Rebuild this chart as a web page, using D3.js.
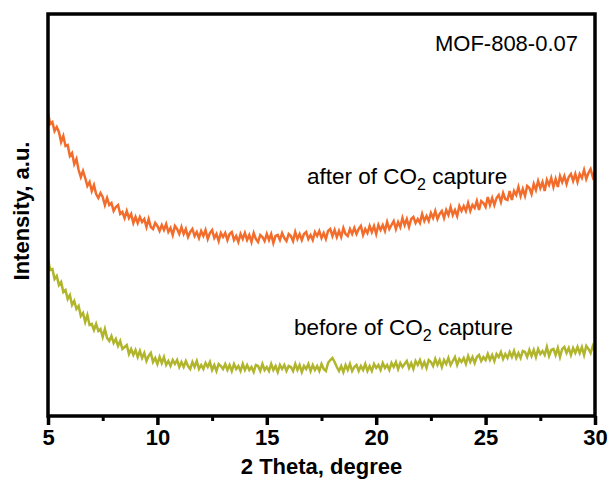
<!DOCTYPE html>
<html>
<head>
<meta charset="utf-8">
<script src="https://cdn.jsdelivr.net/npm/d3@7"></script>
<style>
  html, body { margin: 0; padding: 0; background: #fff; }
  svg { display: block; font-family: "Liberation Sans", Arial, sans-serif; }
</style>
</head>
<body>
<svg id="chart" width="614" height="484"></svg>
<script>
// 2 Theta start / step (degree)
const thetaStart = 5.0;
const thetaStep = 0.1;
const xTicks = [5, 10, 15, 20, 25, 30];
const xMinorTicks = [7.5, 12.5, 17.5, 22.5, 27.5];

// Intensity (a.u.), one value per 0.1 degree from 5 to 30
const afterValues = [
  303, 292, 294, 285, 289, 284, 274, 280, 270, 271, 260,
  263, 252, 257, 246, 239, 245, 238, 230, 234, 225,
  231, 222, 218, 223, 219, 211, 218, 211, 213, 205,
  209, 211, 202, 204, 198, 205, 198, 202, 193, 199,
  193, 199, 194, 197, 189, 197, 189, 187, 193, 190,
  185, 191, 186, 192, 184, 188, 181, 190, 187, 182,
  189, 182, 187, 179, 184, 187, 180, 184, 178, 185,
  180, 186, 177, 183, 186, 178, 182, 175, 183, 179,
  183, 176, 182, 184, 176, 180, 174, 182, 177, 183,
  176, 181, 174, 183, 177, 174, 181, 179, 175, 182,
  176, 182, 173, 180, 181, 176, 183, 178, 175, 182,
  180, 175, 184, 177, 182, 176, 182, 184, 177, 181,
  176, 184, 180, 185, 178, 183, 177, 185, 187, 180,
  186, 179, 185, 179, 188, 182, 180, 187, 182, 188,
  182, 187, 190, 181, 187, 183, 190, 184, 190, 182,
  191, 186, 191, 185, 194, 187, 191, 195, 187, 194,
  189, 198, 191, 197, 189, 197, 199, 193, 197, 193,
  202, 195, 200, 195, 203, 198, 205, 197, 202, 205,
  198, 206, 201, 209, 201, 206, 200, 210, 205, 210,
  205, 213, 205, 211, 208, 215, 206, 215, 213, 209,
  219, 211, 218, 211, 218, 221, 214, 223, 217, 216,
  225, 216, 225, 221, 229, 220, 227, 220, 230, 228,
  222, 232, 226, 235, 228, 234, 225, 236, 231, 238,
  229, 237, 229, 240, 234, 240, 232, 239, 242, 235,
  242, 234, 242, 238, 246, 237, 243, 247, 239, 244
];
const beforeValues = [
  157, 146, 147, 137, 140, 131, 134, 124, 126, 117, 121,
  111, 115, 107, 110, 100, 103, 94, 101, 91, 92,
  86, 92, 85, 87, 79, 87, 78, 75, 80, 73,
  77, 70, 75, 67, 69, 71, 62, 67, 61, 66,
  59, 65, 58, 63, 55, 60, 63, 54, 58, 52,
  59, 53, 59, 51, 55, 50, 56, 52, 56, 49,
  54, 49, 55, 50, 47, 54, 49, 55, 47, 51,
  47, 53, 49, 54, 46, 51, 45, 52, 50, 47,
  52, 46, 51, 45, 52, 47, 50, 45, 52, 46,
  51, 46, 49, 44, 51, 50, 45, 52, 46, 49,
  45, 52, 46, 50, 44, 51, 47, 51, 45, 50,
  49, 45, 52, 46, 51, 44, 50, 47, 52, 45,
  51, 46, 50, 45, 52, 47, 45, 53, 56, 58,
  54, 49, 45, 50, 44, 51, 46, 52, 45, 49,
  51, 45, 50, 46, 52, 45, 50, 45, 52, 48,
  51, 46, 53, 48, 51, 46, 53, 49, 54, 47,
  53, 49, 52, 55, 48, 53, 47, 55, 51, 56,
  49, 54, 48, 56, 54, 50, 57, 51, 56, 49,
  56, 52, 58, 51, 55, 59, 51, 57, 54, 58,
  52, 60, 54, 59, 53, 59, 61, 55, 59, 56,
  62, 56, 61, 55, 62, 59, 64, 57, 62, 58,
  64, 59, 65, 58, 63, 58, 65, 64, 59, 66,
  60, 66, 59, 67, 62, 65, 61, 69, 60, 66,
  67, 61, 68, 59, 67, 69, 63, 68, 61, 68,
  63, 69, 63, 69, 61, 70, 67, 63, 70, 65
];

const seriesNames = ["after of CO2 capture", "before of CO2 capture"];
const seriesColors = ["#f26d2c", "#b0b52c"];

const svg = d3.select("#chart");
const L = 48, R = 595, T = 14, B = 416;

const x = d3.scaleLinear().domain([5, 30]).range([L, R]);
const y = d3.scaleLinear().domain([0, 402]).range([B, T]);

function toPoints(vals) {
  return vals.map((v, i) => [thetaStart + i * thetaStep, v]);
}

const line = d3.line().x(d => x(d[0])).y(d => y(d[1]));

const data = [toPoints(afterValues), toPoints(beforeValues)];

svg.append("clipPath").attr("id", "clip")
  .append("rect").attr("x", L).attr("y", T).attr("width", R - L).attr("height", B - T);

svg.append("g").attr("clip-path", "url(#clip)")
  .selectAll("path").data(data).join("path")
  .attr("d", line)
  .attr("fill", "none")
  .attr("stroke", (d, i) => seriesColors[i])
  .attr("stroke-width", 2.5)
  .attr("stroke-linejoin", "miter");

// frame
svg.append("rect")
  .attr("x", L).attr("y", T).attr("width", R - L).attr("height", B - T)
  .attr("fill", "none").attr("stroke", "#000").attr("stroke-width", 3.5);

// bottom axis
const xAxis = d3.axisBottom(x).tickValues(xTicks).tickSize(9).tickPadding(4).tickFormat(d3.format("d"));
const gx = svg.append("g").attr("transform", `translate(0,${B})`).call(xAxis);
gx.select(".domain").remove();
gx.selectAll(".tick line").attr("stroke", "#000").attr("stroke-width", 3.5);
gx.selectAll(".tick text").attr("font-size", 22).attr("font-weight", "bold")
  .attr("fill", "#000").attr("font-family", "Liberation Sans, Arial, sans-serif");

const xAxisMinor = d3.axisBottom(x).tickValues(xMinorTicks).tickSize(5).tickFormat("");
const gxm = svg.append("g").attr("transform", `translate(0,${B})`).call(xAxisMinor);
gxm.select(".domain").remove();
gxm.selectAll(".tick line").attr("stroke", "#000").attr("stroke-width", 3);

// axis titles
svg.append("text").attr("x", (L + R) / 2).attr("y", 474)
  .attr("text-anchor", "middle").attr("font-size", 22).attr("font-weight", "bold")
  .text("2 Theta, degree");

svg.append("text").attr("transform", `translate(29,${(T + B) / 2 - 4}) rotate(-90)`)
  .attr("text-anchor", "middle").attr("font-size", 22).attr("font-weight", "bold")
  .text("Intensity, a.u.");

// sample label
svg.append("text").attr("x", 578).attr("y", 51)
  .attr("text-anchor", "end").attr("font-size", 22)
  .text("MOF-808-0.07");

// series labels with subscript
function labelWithSub(xPos, yPos, pre, sub, post) {
  const t = svg.append("text").attr("x", xPos).attr("y", yPos).attr("font-size", 22.5).attr("fill", "#000");
  t.append("tspan").text(pre);
  t.append("tspan").attr("font-size", 16).attr("dy", 6).text(sub);
  t.append("tspan").attr("dy", -6).text(post);
}
labelWithSub(307, 184, "after of CO", "2", " capture");
labelWithSub(294, 335, "before of CO", "2", " capture");
</script>
</body>
</html>
